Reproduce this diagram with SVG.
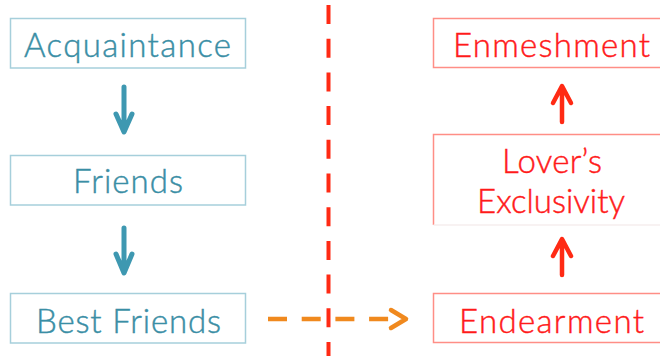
<svg xmlns="http://www.w3.org/2000/svg" width="660" height="356" viewBox="0 0 660 356">
<style>
.bbox{fill:#fff;stroke:#A6CFDB;stroke-width:1.5}
.rbox{fill:#fff;stroke:#FF8E86;stroke-width:1.5}
.bt{font-family:Lato,"Open Sans",sans-serif;font-weight:300;font-size:33px;fill:#3A8EA5;stroke:#3A8EA5;stroke-width:0.45;text-anchor:middle}
.rt{font-family:Lato,"Open Sans",sans-serif;font-weight:300;font-size:33px;fill:#FF1A1A;stroke:#FF1A1A;stroke-width:0.45;text-anchor:middle}
.barr{fill:none;stroke:#3E98B1;stroke-width:5;stroke-linecap:round;stroke-linejoin:round}
.rarr{fill:none;stroke:#FF2A14;stroke-width:4.5;stroke-linecap:round;stroke-linejoin:round}
</style>
<rect width="660" height="356" fill="#fff"/>
<g id="divider">
<line x1="328.5" y1="5" x2="328.5" y2="356" stroke="#FF2A14" stroke-width="4" stroke-dasharray="19 14.7"/>
</g>
<g id="connectors">
<path class="barr" d="M124 87V131M116 114L124 132L132 114"/>
<path class="barr" d="M124 228V272M116 254L124 273L132 254"/>
<path class="rarr" d="M562 122V87M553 103L562 86L571 103"/>
<path class="rarr" d="M562 275V240M553 256L562 239L571 256"/>
<line x1="268" y1="319" x2="400" y2="319" stroke="#F0891E" stroke-width="4.5" stroke-dasharray="19 14.7"/>
<path d="M391 310L406 319L391 328" fill="none" stroke="#F0891E" stroke-width="4.5" stroke-linecap="round" stroke-linejoin="round"/>
</g>
<g id="acquaintance">
<rect class="bbox" x="10.5" y="18.5" width="235" height="49.5"/>
<text class="bt" x="127.5" y="57" textLength="207" lengthAdjust="spacing">Acquaintance</text>
</g>
<g id="friends">
<rect class="bbox" x="10.5" y="155.5" width="235" height="49.5"/>
<text class="bt" x="128" y="193" textLength="110" lengthAdjust="spacing">Friends</text>
</g>
<g id="best-friends">
<rect class="bbox" x="10.5" y="293.5" width="235" height="49.5"/>
<text class="bt" x="128.5" y="333" textLength="185" lengthAdjust="spacing">Best Friends</text>
</g>
<g id="enmeshment">
<rect class="rbox" x="433.5" y="18.5" width="240" height="49"/>
<text class="rt" x="551.5" y="57" textLength="197" lengthAdjust="spacing">Enmeshment</text>
</g>
<g id="lovers-exclusivity">
<path d="M433.5 225V134.5H670" fill="none" stroke="#FF8E86" stroke-width="1.5"/>
<line x1="433.5" y1="225" x2="660" y2="225" stroke="#F6EEEE" stroke-width="1.5"/>
<text class="rt" x="552" y="173" textLength="100" lengthAdjust="spacing">Lover’s</text>
<text class="rt" x="551" y="213" textLength="148" lengthAdjust="spacing">Exclusivity</text>
</g>
<g id="endearment">
<rect class="rbox" x="433.5" y="293.5" width="240" height="49"/>
<text class="rt" x="551.5" y="333" textLength="185" lengthAdjust="spacing">Endearment</text>
</g>
</svg>
